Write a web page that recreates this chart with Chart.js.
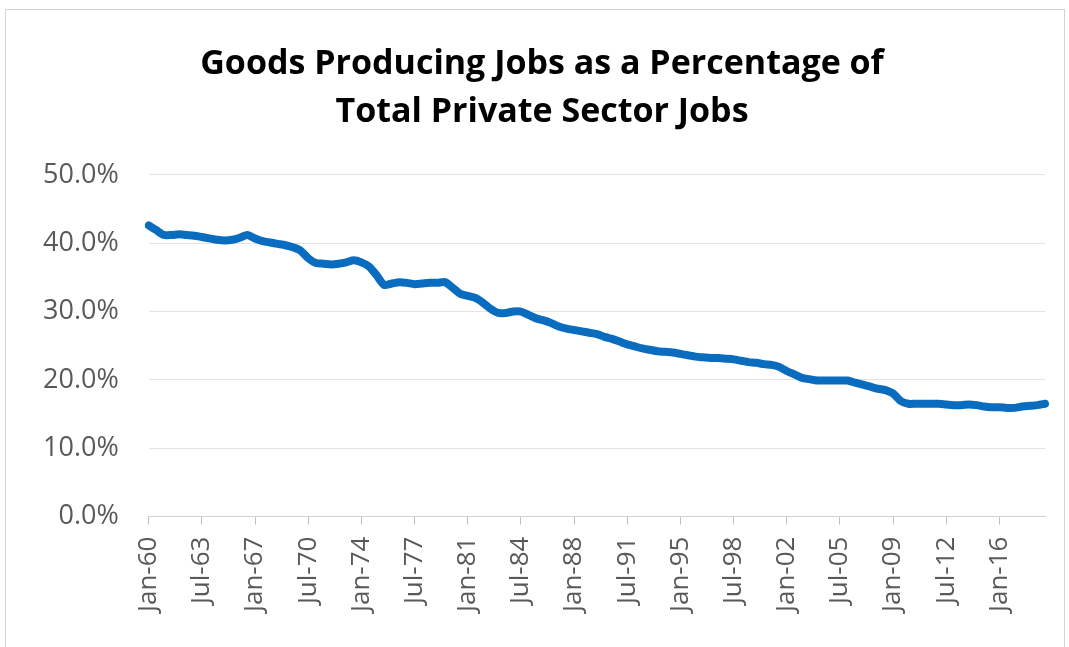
<!DOCTYPE html>
<html>
<head>
<meta charset="utf-8">
<script src="https://cdn.jsdelivr.net/npm/chart.js@4.4.1/dist/chart.umd.min.js"></script>
<style>
  html, body { margin: 0; padding: 0; background: #fff; overflow: hidden; }
  .frame { position: absolute; left: 5px; top: 9px; width: 1058px; height: 700px; border: 1px solid #d4d4d4; }
  canvas { position: absolute; left: 0; top: 0; }
</style>
</head>
<body>
<div class="frame"></div>
<canvas id="jobs-chart" width="1069" height="647"></canvas>
<script>
// ось x: каждые полгода, с Jan-60 по Jan-19
const MONTHS = ['Jan', 'Jul'];
let categories = [];
for (let year = 1960; year <= 2019; year++) {
  MONTHS.forEach(m => {
    if (year === 2019 && m === 'Jul') return;
    categories.push(m + '-' + String(year).slice(2));
  });
}

// подписи, которые видны на оси
const tickLabels = ['Jan-60', 'Jul-63', 'Jan-67', 'Jul-70', 'Jan-74', 'Jul-77', 'Jan-81', 'Jul-84',
  'Jan-88', 'Jul-91', 'Jan-95', 'Jul-98', 'Jan-02', 'Jul-05', 'Jan-09', 'Jul-12', 'Jan-16'];

// доля занятых в goods producing, %
const goodsShare = [
  42.6, 41.9, 41.2, 41.2, 41.3, 41.2, 41.1, 40.9, 40.7, 40.5,
  40.4, 40.5, 40.8, 41.2, 40.7, 40.3, 40.1, 39.9, 39.7, 39.4,
  38.9, 37.8, 37.1, 37.0, 36.9, 37.0, 37.2, 37.5, 37.2, 36.6,
  35.3, 33.9, 34.1, 34.3, 34.2, 34.0, 34.1, 34.2, 34.2, 34.3,
  33.5, 32.6, 32.3, 32.0, 31.3, 30.4, 29.8, 29.8, 30.0, 30.0,
  29.5, 29.0, 28.7, 28.3, 27.8, 27.5, 27.3, 27.1, 26.9, 26.7,
  26.3, 26.0, 25.6, 25.2, 24.9, 24.6, 24.4, 24.2, 24.1, 24.0,
  23.8, 23.6, 23.4, 23.3, 23.2, 23.2, 23.1, 23.0, 22.8, 22.6,
  22.5, 22.3, 22.2, 21.9, 21.3, 20.8, 20.3, 20.1, 19.9, 19.9,
  19.9, 19.9, 19.9, 19.6, 19.3, 19.0, 18.7, 18.5, 18.0, 16.9,
  16.5, 16.5, 16.5, 16.5, 16.5, 16.4, 16.3, 16.3, 16.4, 16.3,
  16.1, 16.0, 16.0, 15.9, 15.9, 16.1, 16.2, 16.3, 16.5
];

const yTicks = [0, 10, 20, 30, 40, 50];

// заголовок чуть правее центра, как в оригинале
const titleShift = {
  id: 'titleShift',
  afterLayout(chart) {
    if (chart.titleBlock) {
      chart.titleBlock.left += 13;
      chart.titleBlock.right += 13;
    }
  }
}

const config = {
  type: 'line',
  data: {
    labels: categories,
    datasets: [{
      label: 'Goods producing',
      data: goodsShare,
      borderColor: '#0a6cbf',
      backgroundColor: '#0a6cbf',
      borderWidth: 8,
      pointRadius: 0,
      tension: 0.25,
      borderCapStyle: 'round',
      borderJoinStyle: 'round',
      fill: false,
    }]
  },
  options: {
    responsive: false,
    animation: false,
    layout: {
      padding: { left: 13, right: 24, top: 0, bottom: 23 }
    },
    plugins: {
      legend: { display: false },
      tooltip: { enabled: false },
      title: {
        display: true,
        text: ['Goods Producing Jobs as a Percentage of', 'Total Private Sector Jobs'],
        color: '#000',
        font: { family: 'Open Sans', size: 34, weight: 'bold', lineHeight: 1.41 },
        padding: { top: 40, bottom: 39 }
      }
    },
    scales: {
      x: {
        offset: false,
        // последняя подпись пустая, лишний отступ справа не нужен
        afterFit: (axis) => { axis.paddingRight = 0; },
        grid: {
          drawOnChartArea: false,
          drawTicks: true,
          tickLength: 8,
          color: (c) => tickLabels.includes(categories[c.index]) ? '#bfbfbf' : 'rgba(0,0,0,0)'
        },
        border: { display: true, color: '#d0d0d0', width: 1 },
        ticks: {
          autoSkip: false,
          maxRotation: 90,
          minRotation: 90,
          padding: 12,
          color: '#595959',
          font: { family: 'Open Sans', size: 26 },
          callback: function (value) {
            let lab = this.getLabelForValue(value);
            return tickLabels.includes(lab) ? lab : '';
          }
        }
      },
      y: {
        min: 0,
        max: 50,
        afterBuildTicks: (axis) => { axis.ticks = yTicks.map(v => ({ value: v })); },
        grid: { color: '#e3e3e3', lineWidth: 1, drawTicks: false },
        border: { display: false },
        ticks: {
          padding: 30,
          color: '#595959',
          font: { family: 'Open Sans', size: 27 },
          callback: (v) => v.toFixed(1) + '%'
        }
      }
    }
  },
  plugins: [titleShift]
};

const myChart = new Chart(document.getElementById('jobs-chart'), config);
</script>
</body>
</html>
